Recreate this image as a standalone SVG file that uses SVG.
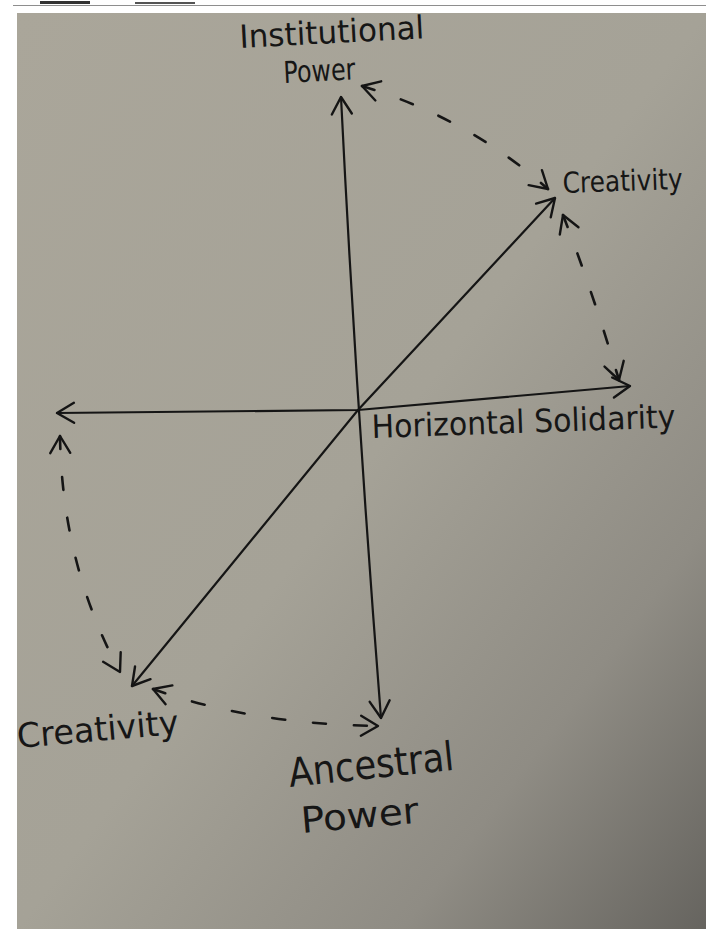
<svg xmlns="http://www.w3.org/2000/svg" width="706" height="929" viewBox="0 0 706 929">
  <defs>
    <linearGradient id="paper" x1="0" y1="0" x2="1" y2="1">
      <stop offset="0" stop-color="#aaa69a"/>
      <stop offset="0.5" stop-color="#a5a297"/>
      <stop offset="0.78" stop-color="#8f8c84"/>
      <stop offset="1" stop-color="#66645f"/>
    </linearGradient>
    <marker id="head" viewBox="-20 -12 24 24" markerWidth="24" markerHeight="24" refX="0" refY="0" markerUnits="userSpaceOnUse" orient="auto-start-reverse">
      <path d="M-17,-10 L0,0 L-17,10" fill="none" stroke="#141414" stroke-width="2.4" stroke-linecap="round" stroke-linejoin="round"/>
    </marker>
  </defs>
  <style>
    .ink { fill: none; stroke: #151515; stroke-linecap: round; }
    .axis { stroke-width: 2.2; }
    .dash { stroke-width: 2.6; stroke-dasharray: 13 28; }
    .lbl { font-family: "DejaVu Sans", "Liberation Sans", sans-serif; fill: #161616; font-weight: normal; }
  </style>

  <rect x="0" y="0" width="706" height="929" fill="#ffffff"/>
  <rect x="40" y="1" width="50" height="3" fill="#333"/>
  <rect x="135" y="2" width="60" height="2" fill="#555"/>
  <line x1="13" y1="5.5" x2="706" y2="5.5" stroke="#8e8e8e" stroke-width="1"/>
  <rect x="17" y="13" width="689" height="916" fill="url(#paper)"/>

  <g id="connectors">
    <path id="axis-vertical" class="ink axis" d="M341,97 Q356,400 381,718" marker-start="url(#head)" marker-end="url(#head)"/>
    <path id="axis-horizontal" class="ink axis" d="M57,413 L358,410 L630,386" marker-start="url(#head)" marker-end="url(#head)"/>
    <path id="axis-diagonal" class="ink axis" d="M132,686 L358,410 L555,198" marker-start="url(#head)" marker-end="url(#head)"/>
    <path id="dash-top" class="ink dash" d="M362,86 Q468,118 548,189" marker-start="url(#head)" marker-end="url(#head)"/>
    <path id="dash-right" class="ink dash" d="M563,215 Q592,290 619,380" marker-start="url(#head)" marker-end="url(#head)"/>
    <path id="dash-left" class="ink dash" d="M60,436 Q62,565 120,672" marker-start="url(#head)" marker-end="url(#head)"/>
    <path id="dash-bottom" class="ink dash" d="M153,689 Q250,724 378,726" marker-start="url(#head)" marker-end="url(#head)"/>
  </g>

  <g id="institutional-power">
    <text class="lbl" x="240" y="48" font-size="32" textLength="185" lengthAdjust="spacingAndGlyphs" transform="rotate(-3 240 48)">Institutional</text>
    <text class="lbl" x="284" y="83" font-size="30" textLength="72" lengthAdjust="spacingAndGlyphs" transform="rotate(-3 284 83)">Power</text>
  </g>
  <g id="creativity-top">
    <text class="lbl" x="563" y="193" font-size="29" textLength="120" lengthAdjust="spacingAndGlyphs" transform="rotate(-2 563 193)">Creativity</text>
  </g>
  <g id="horizontal-solidarity">
    <text class="lbl" x="372" y="438" font-size="32" textLength="304" lengthAdjust="spacingAndGlyphs" transform="rotate(-2 372 438)">Horizontal Solidarity</text>
  </g>
  <g id="creativity-bottom">
    <text class="lbl" x="18" y="748" font-size="34" textLength="162" lengthAdjust="spacingAndGlyphs" transform="rotate(-5 18 748)">Creativity</text>
  </g>
  <g id="ancestral-power">
    <text class="lbl" x="290" y="787" font-size="40" textLength="166" lengthAdjust="spacingAndGlyphs" transform="rotate(-6 290 787)">Ancestral</text>
    <text class="lbl" x="302" y="833" font-size="36" textLength="118" lengthAdjust="spacingAndGlyphs" transform="rotate(-5 302 833)">Power</text>
  </g>
</svg>
